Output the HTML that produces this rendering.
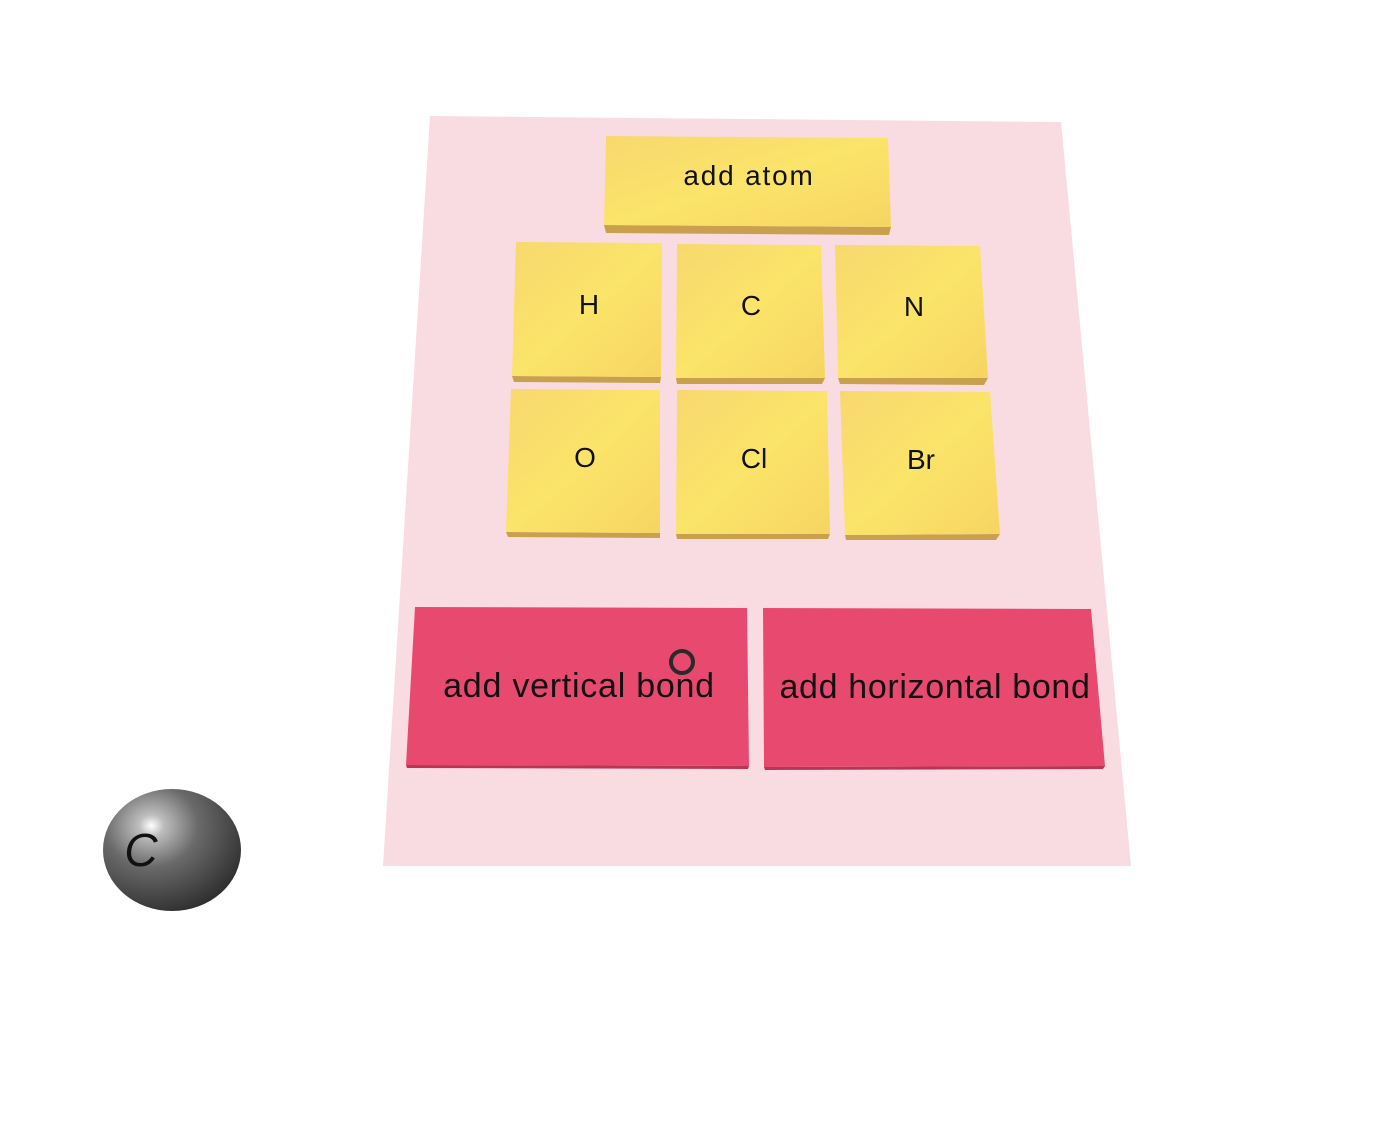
<!DOCTYPE html>
<html>
<head>
<meta charset="utf-8">
<style>
html,body{margin:0;padding:0;background:#fff;}
svg{display:block;}
text{font-family:"Liberation Sans",sans-serif;fill:#111;}
</style>
</head>
<body>
<svg width="1374" height="1134" viewBox="0 0 1374 1134">
<defs>
<linearGradient id="yel" x1="0" y1="0" x2="1" y2="1">
<stop offset="0" stop-color="#f7d86e"/>
<stop offset="0.5" stop-color="#fbe46a"/>
<stop offset="1" stop-color="#f6d562"/>
</linearGradient>
<radialGradient id="ball" cx="0.35" cy="0.3" r="0.75">
<stop offset="0" stop-color="#ffffff"/>
<stop offset="0.12" stop-color="#bdbdbd"/>
<stop offset="0.45" stop-color="#6a6a6a"/>
<stop offset="1" stop-color="#2e2e2e"/>
</radialGradient>
</defs>

<polygon points="430,116 1061,122 1131,866 383,866" fill="#f9dce2"/>

<g>
<polygon points="604,225 891,227 889,235 606,233" fill="#c9a04e"/>
<polygon points="606,136 888,138 891,227 604,225" fill="url(#yel)"/>
<text x="749" y="185" font-size="28" text-anchor="middle" letter-spacing="1.8">add atom</text>
</g>

<g>
<polygon points="512,376 661,377 660,383 514,382" fill="#c9a04e"/>
<polygon points="516,242 662,243 661,377 512,376" fill="url(#yel)"/>
<text x="589" y="314" font-size="28" text-anchor="middle">H</text>
</g>
<g>
<polygon points="676,378 825,378 822,384 677,384" fill="#c9a04e"/>
<polygon points="677,244 821,245 825,378 676,378" fill="url(#yel)"/>
<text x="751" y="315" font-size="28" text-anchor="middle">C</text>
</g>
<g>
<polygon points="838,378 988,378 984,385 840,384" fill="#c9a04e"/>
<polygon points="835,245 980,246 988,378 838,378" fill="url(#yel)"/>
<text x="914" y="316" font-size="28" text-anchor="middle">N</text>
</g>
<g>
<polygon points="506,532 660,533 660,538 508,537" fill="#c9a04e"/>
<polygon points="511,389 660,390 660,533 506,532" fill="url(#yel)"/>
<text x="585" y="467" font-size="28" text-anchor="middle">O</text>
</g>
<g>
<polygon points="676,534 830,534 828,539 677,539" fill="#c9a04e"/>
<polygon points="677,390 827,391 830,534 676,534" fill="url(#yel)"/>
<text x="754" y="468" font-size="28" text-anchor="middle">Cl</text>
</g>
<g>
<polygon points="845,535 1000,534 996,540 846,540" fill="#c9a04e"/>
<polygon points="840,391 990,392 1000,534 845,535" fill="url(#yel)"/>
<text x="921" y="469" font-size="28" text-anchor="middle">Br</text>
</g>

<g>
<polygon points="406,765 749,766 748,769 407,768" fill="#b83556"/>
<polygon points="415,607 747,608 749,766 406,765" fill="#e84a6f"/>
<text x="579" y="697" font-size="34" text-anchor="middle" letter-spacing="0.75">add vertical bond</text>
</g>
<g>
<polygon points="764,767 1105,766 1103,769 765,770" fill="#b83556"/>
<polygon points="763,608 1091,609 1105,766 764,767" fill="#e84a6f"/>
<text x="935" y="698" font-size="34" text-anchor="middle" letter-spacing="0.65">add horizontal bond</text>
</g>

<circle cx="682" cy="662" r="11" fill="none" stroke="#2a2a2a" stroke-width="4"/>

<g>
<ellipse cx="172" cy="850" rx="69" ry="61" fill="url(#ball)"/>
<text x="141" y="866" font-size="46" font-style="italic" text-anchor="middle">C</text>
</g>
</svg>
</body>
</html>
